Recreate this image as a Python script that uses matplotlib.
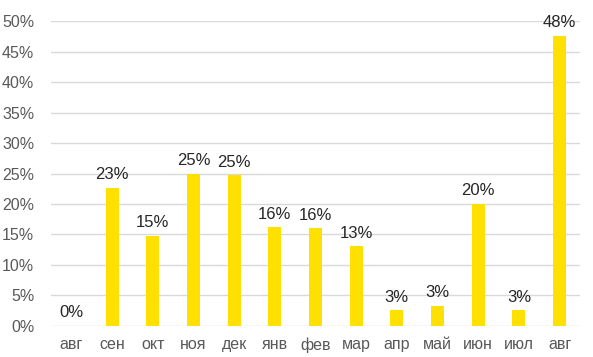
import numpy as np
import matplotlib.pyplot as plt

plt.rcParams['font.family'] = ['Liberation Sans', 'DejaVu Sans']

# Data
months = ['авг', 'сен', 'окт', 'ноя', 'дек', 'янв', 'фев', 'мар', 'апр', 'май', 'июн', 'июл', 'авг']
values = [0, 22.7, 14.8, 25.0, 24.7, 16.2, 16.0, 13.1, 2.6, 3.3, 20.0, 2.6, 47.6]
yticks = [0, 5, 10, 15, 20, 25, 30, 35, 40, 45, 50]

fig = plt.figure(figsize=(5.93, 3.57), dpi=100)
ax = fig.add_axes([0.086, 0.087, 0.892, 0.854])

x = np.arange(len(months))
ax.bar(x, values, width=0.32, color='#FFE000', zorder=3)

# value labels above bars
for xi, v in zip(x, values):
    ax.annotate(f'{v:.0f}%', (xi, v), xytext=(0, 4), textcoords='offset points',
                ha='center', va='bottom', fontsize=12, color='#262626',
                annotation_clip=False)

ax.set_xlim(-0.5, len(months) - 0.5)
ax.set_ylim(0, 50)
ax.set_yticks(yticks)
ax.set_yticklabels([f'{t}%' for t in yticks])
ax.set_xticks(x)
ax.set_xticklabels(months)
ax.tick_params(axis='both', length=0, labelsize=11.5, colors='#595959')
ax.tick_params(axis='x', pad=8)
ax.tick_params(axis='y', pad=12)

ax.grid(axis='y', color='#d9d9d9', linewidth=1, zorder=0)
for s in ax.spines.values():
    s.set_visible(False)

plt.savefig('out.png', dpi=100)
